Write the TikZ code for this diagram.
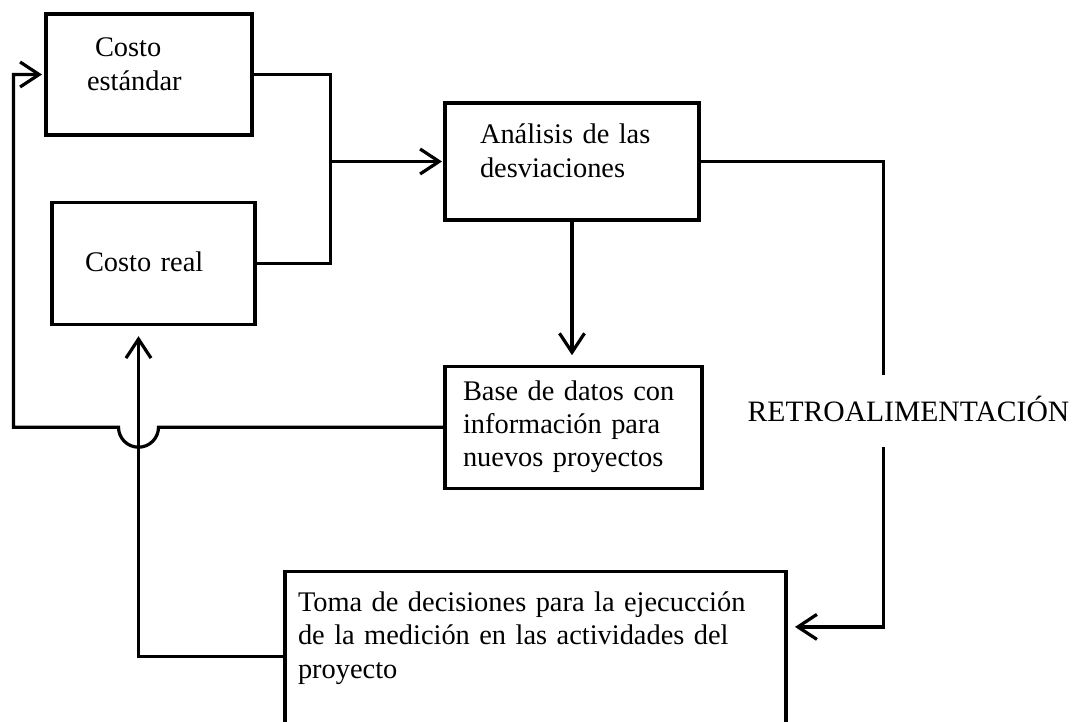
\documentclass[tikz,border=0pt]{standalone}
\usepackage{fontspec}
\setmainfont{Liberation Serif}[WordSpace=0.84]
\newfontfamily\retrofont{Liberation Serif}
\usepackage{tikz}
\usetikzlibrary{positioning,arrows.meta}

\begin{document}
\begin{tikzpicture}[x=0.5pt,y=-0.5pt,
		font=\fontsize{14.2pt}{16.7pt}\selectfont,
		line width=1.6pt,
		box/.style={draw, align=left, text height=10pt, inner ysep=0pt},
		arrow/.style={-{Straight Barb[length=9.5pt,width=12.5pt]}}]
		\useasboundingbox (0,0) rectangle (1078,722);

		\node[box,
			minimum width=103pt,
			minimum height=60.5pt,
			inner xsep=20.5pt,
			text width=62pt,
			text depth=27.5pt
		] (estandar) at (149,74.5) {\hspace*{4pt}Costo\\estándar};

		\node[box,
			below=32pt of estandar,
			xshift=2.25pt,
			minimum width=101.5pt,
			minimum height=61pt,
			inner xsep=16.5pt,
			text width=68.5pt,
			text depth=2pt
		] (real) {Costo real};

		\node[box,
			minimum width=127pt,
			minimum height=58.5pt,
			inner xsep=17.5pt,
			text width=92pt,
			text depth=27.5pt
		] (analisis) at (572,161.5) {Análisis de las\\desviaciones};

		\node[box,
			below=71.5pt of analisis,
			xshift=0.75pt,
			minimum width=128.5pt,
			minimum height=61pt,
			inner xsep=9pt,
			text width=110.5pt,
			text depth=37pt
		] (base) {Base de datos con\\información para\\nuevos proyectos};

		\node[box,
			below=40pt of base,
			xshift=-19pt,
			minimum width=250.5pt,
			minimum height=77.5pt,
			inner xsep=6.5pt,
			text width=237.5pt,
			text depth=47.5pt
		] (toma) {Toma de decisiones para la ejecucción\\de la medición en las actividades del\\proyecto};

		\node[coordinate, left=56.5pt of analisis.west] (join) {};
		\node[coordinate, right=91.5pt of analisis.east] (fbtop) {};
		\node[coordinate, left=15.5pt of estandar.west] (back) {};
		\coordinate (upline) at ([xshift=-7.5pt]real.south);

		\draw (estandar.east) -| (join) |- (real.east);
		\draw[arrow, shorten >=0.7pt] (join) -- (analisis.west);
		\draw[arrow, shorten >=4.7pt] (analisis.south) -- (analisis.south |- base.north);
		\draw[arrow, shorten >=3.7pt] (analisis.east) -- (fbtop) |- ([yshift=11pt]toma.east);
		\draw[arrow, shorten >=1.2pt] (base.west) -- ([xshift=10pt]upline |- base.west)
			arc[start angle=0, end angle=180, radius=20]
			-- (back |- base.west) -- (back) -- (estandar.west);
		\draw[arrow, shorten >=5.2pt] ([yshift=-3.75pt]toma.west) -| (upline);

		\node[fill=white,
			font=\retrofont\fontsize{14.8pt}{16.7pt}\selectfont,
			inner xsep=1pt,
			inner ysep=9.5pt,
			text height=14pt,
			text depth=3pt
		] (retro) at (908.5,411) {RETROALIMENTACIÓN};

	\end{tikzpicture}
\end{document}
